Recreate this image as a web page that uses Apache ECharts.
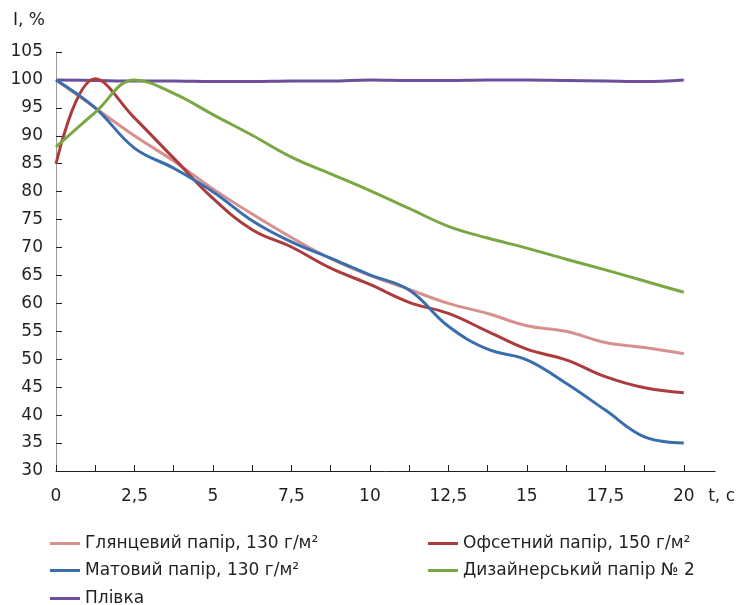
<!DOCTYPE html>
<html>
<head>
<meta charset="utf-8">
<script src="https://cdn.jsdelivr.net/npm/echarts@6/dist/echarts.min.js"></script>
<style>
html,body{margin:0;padding:0;background:#fff;}
#chart{width:738px;height:605px;}
</style>
</head>
<body>
<div id="chart"></div>
<script>
// Time points (s)
var tValues = [0, 1.25, 2.5, 3.75, 5, 6.25, 7.5, 8.75, 10, 11.25, 12.5, 13.75, 15, 16.25, 17.5, 18.75, 20];
// Series values (I, %)
var glossy   = [100, 95, 90, 85.5, 80.5, 76, 71.8, 68, 65, 62.5, 60, 58.2, 56, 55, 53, 52.1, 51];
var offset   = [85, 100.2, 93.2, 86, 78.8, 73.2, 70.1, 66.3, 63.4, 60.2, 58.2, 55, 51.8, 49.9, 46.9, 44.9, 44];
var matte    = [100, 95, 87.8, 84.2, 80, 74.8, 71, 68.1, 65.1, 62.4, 55.9, 51.8, 49.9, 45.7, 40.9, 36.1, 35];
var designer = [88, 94.2, 100, 97.6, 93.8, 90.1, 86.2, 83.2, 80.2, 77, 73.8, 71.7, 69.9, 67.9, 66, 64, 62];
var film     = [100, 99.9, 99.8, 99.8, 99.7, 99.7, 99.8, 99.8, 100, 99.9, 99.9, 100, 100, 99.9, 99.8, 99.7, 100];
// Names
var seriesNames = ['Глянцевий папір, 130 г/м²', 'Офсетний папір, 150 г/м²', 'Матовий папір, 130 г/м²', 'Дизайнерський папір № 2', 'Плівка'];
var seriesColors = ['#D6918F', '#AE3B3B', '#3A6DAE', '#79A843', '#6C4E9B'];
// Tick labels
var xTickValues = [0, 1.25, 2.5, 3.75, 5, 6.25, 7.5, 8.75, 10, 11.25, 12.5, 13.75, 15, 16.25, 17.5, 18.75, 20];
var xLabelValues = [0, 2.5, 5, 7.5, 10, 12.5, 15, 17.5, 20];

var allData = [glossy, offset, matte, designer, film];
function pairs(arr){ return arr.map(function(v,i){ return [tValues[i], v]; }); }

var FONT = 'DejaVu Sans';
var chart = echarts.init(document.getElementById('chart'), null, {renderer:'canvas'});
var series = allData.map(function(arr, i){
  return {
    name: seriesNames[i],
    type: 'line',
    data: pairs(arr),
    smooth: 0.4,
    showSymbol: false,
    symbol: 'none',
    lineStyle: {color: seriesColors[i], width: 3},
    itemStyle: {color: seriesColors[i]},
    z: i === 4 ? 1 : 2
  };
});

var legendText = {fontFamily: FONT, fontSize: 17, color: '#231F20'};
// legend slots: [series index, left, top]
var legendSlots = [[0, 50, 535], [2, 50, 562], [4, 50, 590], [1, 428, 535], [3, 428, 562]];
var legends = legendSlots.map(function(s){
  return {
    data: [seriesNames[s[0]]], left: s[1], top: s[2], padding: 0,
    icon: 'rect', itemWidth: 30, itemHeight: 3, textStyle: legendText
  };
});

chart.setOption({
  animation: false,
  backgroundColor: '#fff',
  grid: {left: 56, right: 21, top: 52, bottom: 134, containLabel: false},
  xAxis: {
    type: 'value', min: 0, max: 21,
    name: 't, c', nameLocation: 'end', nameGap: -7,
    nameTextStyle: {fontFamily: FONT, fontSize: 17, color: '#231F20', verticalAlign: 'top', padding: [17,0,0,0]},
    axisLine: {show: true, lineStyle: {color: '#231F20', width: 1}},
    axisTick: {show: true, inside: true, length: 6, customValues: xTickValues, lineStyle: {color: '#231F20'}},
    axisLabel: {show: true, customValues: xLabelValues, margin: 17, fontFamily: FONT, fontSize: 17, color: '#231F20',
      formatter: function(v){ return String(v).replace('.', ','); }},
    splitLine: {show: false}
  },
  yAxis: {
    type: 'value', min: 30, max: 105, interval: 5,
    name: 'I, %', nameLocation: 'end', nameGap: 23,
    nameTextStyle: {fontFamily: FONT, fontSize: 17, color: '#231F20', align: 'right', padding: [0, 11, 0, 0]},
    axisLine: {show: true, lineStyle: {color: '#9A9A9A', width: 1}},
    axisTick: {show: true, inside: true, length: 6, lineStyle: {color: '#231F20'}},
    axisLabel: {margin: 13, fontFamily: FONT, fontSize: 17, color: '#231F20', padding: [4, 0, 0, 0]},
    splitLine: {show: false}
  },
  legend: legends,
  series: series
});
</script>
</body>
</html>
